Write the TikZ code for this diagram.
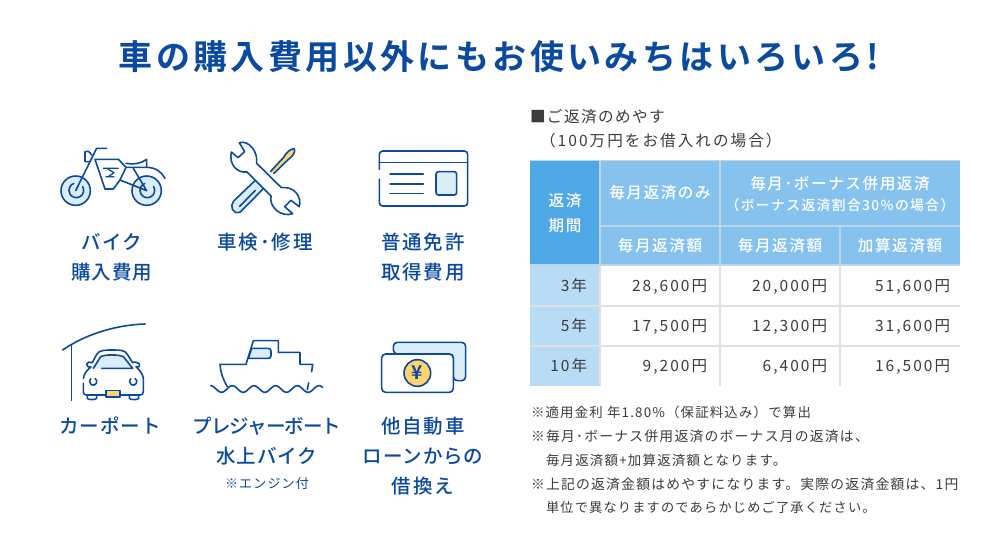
\documentclass[tikz,border=0pt]{standalone}
\usepackage{fontspec}
\setmainfont{Noto Sans CJK JP}
\newfontfamily\jpr[LetterSpace=9]{Noto Sans CJK JP}
\newfontfamily\jprw[LetterSpace=13]{Noto Sans CJK JP}
\newfontfamily\jpm[LetterSpace=10]{Noto Sans CJK JP Medium}
\newfontfamily\jpmn[LetterSpace=5]{Noto Sans CJK JP Medium}
\newfontfamily\jpmt[LetterSpace=-5]{Noto Sans CJK JP Medium}
\newfontfamily\jpb[LetterSpace=10]{Noto Sans CJK JP Bold}
\definecolor{navy}{HTML}{0B4A9E}
\definecolor{pale}{HTML}{DCEDFA}
\definecolor{gold}{HTML}{FFD36E}
\definecolor{ink}{HTML}{3C3C3C}
\definecolor{hdr}{HTML}{86C2EE}
\definecolor{hdrd}{HTML}{4FA8E6}
\definecolor{rowh}{HTML}{B8DCF6}
\definecolor{seph}{HTML}{BCD6E8}
\definecolor{sepb}{HTML}{E0E0E0}
\tikzset{
  base/.style={inner sep=0pt,outer sep=0pt},
  ttl/.style={base,text=navy,font=\jpb\fontsize{34}{34}\selectfont,text height=29.9pt,text depth=4.1pt},
  lbl/.style={base,text=navy,font=\jpm\fontsize{19.5}{19.5}\selectfont,text height=17.2pt,text depth=2.3pt},
  lbln/.style={lbl,font=\jpmn\fontsize{19.5}{19.5}\selectfont},
  lblt/.style={lbl,font=\jpmt\fontsize{19.5}{19.5}\selectfont},
  lbls/.style={base,text=navy,font=\jpr\fontsize{13}{13}\selectfont,text height=11.4pt,text depth=1.6pt},
  thd/.style={base,text=white,font=\jpm\fontsize{15.6}{15.6}\selectfont,text height=13.7pt,text depth=1.9pt},
  ths/.style={base,text=white,font=\jpm\fontsize{13.8}{13.8}\selectfont,text height=12.1pt,text depth=1.7pt},
  tbd/.style={base,anchor=east,text=ink,font=\jprw\fontsize{15.5}{15.5}\selectfont,text height=13.6pt,text depth=1.9pt},
  hd/.style={base,anchor=west,text=ink,font=\jpr\fontsize{15.6}{15.6}\selectfont,text height=13.7pt,text depth=1.9pt},
  hdw/.style={hd,font=\jprw\fontsize{15.6}{15.6}\selectfont},
  note/.style={base,anchor=west,text=ink,font=\jpr\fontsize{#1}{#1}\selectfont,text height=11.4pt,text depth=1.6pt},
  ic/.style={draw=navy,line width=1.6pt,line join=round,line cap=round},
  zoomed/.style={x=0.33333pt,y=-0.33333pt}
}
\begin{document}
\begin{tikzpicture}[x=1pt,y=-1pt]
\useasboundingbox (0,0) rectangle (1000,555);
\fill[white] (0,0) rectangle (1000,555);

\node[ttl] (title) at (499,57) {車の購入費用以外にもお使いみちはいろいろ!};

% --- motorcycle
\begin{scope}[shift={(40,130)},zoomed]
\draw[ic,fill=pale] (107,182) circle (44);
\draw[ic,fill=pale] (320,182) circle (44);
\draw[ic] (128,170) arc (-30:250:22);
\draw[ic] (341,170) arc (-30:250:22);
\draw[ic] (107,182) -- (170,55) -- (200,55);
\draw[ic] (155,75) .. controls (148,62) and (140,62) .. (135,65) -- (135,95) -- (148,95);
\draw[ic] (165,88) -- (235,88) -- (258,112) -- (240,150) -- (220,177) -- (195,177) -- cycle;
\draw[ic] (258,100) .. controls (280,105) and (305,100) .. (320,88) -- (320,112) -- (258,112);
\draw[ic] (320,112) .. controls (345,112) and (365,125) .. (375,145);
\draw[ic] (240,150) -- (320,182) -- (280,115);
\draw[ic,line width=1.3pt] (190,115) -- (235,115) (200,115) -- (222,128) -- (205,140) (198,140) -- (222,140);
\end{scope}
\node[lbln] (l1a) at (112,242) {バイク};
\node[lbln] (l1b) at (112,272) {購入費用};

% --- tools
\begin{scope}[shift={(222,136)},zoomed]
\draw[ic,fill=gold] (145,107) -- (185,64) .. controls (192,50) and (205,38) .. (217,38) .. controls (222,50) and (210,62) .. (197,72) -- (155,113);
\draw[ic,fill=pale] (100,133) -- (35,195) .. controls (22,210) and (32,238) .. (55,228) -- (127,155);
\draw[ic] (52,212) -- (100,163);
\draw[ic,fill=white] (52,20) .. controls (80,12) and (108,45) .. (104,82) -- (178,155) .. controls (215,150) and (240,180) .. (232,212) -- (207,193) -- (188,212) -- (212,233) .. controls (180,245) and (140,215) .. (147,180) -- (75,108) .. controls (45,112) and (20,85) .. (28,48) -- (48,65) -- (68,47) -- cycle;
\end{scope}
\node[lbl] (l2) at (265,242) {車検･修理};

% --- licence card
\begin{scope}[shift={(280,130)},zoomed]
\draw[ic] (298,118) -- (298,73) arc (180:270:10) -- (553,63) arc (-90:0:10) -- (563,218) arc (0:90:10) -- (308,228) arc (90:180:10) -- (298,148);
\draw[ic] (298,97) -- (563,97);
\draw[ic,line width=1.3pt] (330,132) -- (430,132) (330,162) -- (430,162) (330,191) -- (430,191);
\draw[ic,fill=pale,rounded corners=2.5pt] (468,125) rectangle (530,195);
\end{scope}
\node[lbl] (l3a) at (423,242) {普通免許};
\node[lbl] (l3b) at (423,272) {取得費用};

% --- car port
\begin{scope}[shift={(40,315)},zoomed]
\draw[ic] (68,105) .. controls (130,62) and (220,30) .. (315,27);
\draw[ic,line cap=butt] (95,90) -- (95,258);
\draw[ic,fill=white] (142,240) -- (142,250) .. controls (142,255) and (168,255) .. (170,250) -- (170,240);
\draw[ic,fill=white] (268,240) -- (268,250) .. controls (270,255) and (296,255) .. (296,250) -- (296,240);
\draw[ic] (130,205) -- (130,232) .. controls (130,238) and (135,240) .. (140,240) -- (198,240);
\draw[ic] (240,240) -- (300,240) .. controls (306,240) and (310,236) .. (310,230) -- (310,190) .. controls (308,175) and (298,165) .. (288,155) .. controls (298,158) and (302,152) .. (298,146) .. controls (292,140) and (280,140) .. (278,143) -- (262,118) .. controls (255,105) and (240,105) .. (218,105) .. controls (195,105) and (178,105) .. (170,118) -- (157,143) .. controls (150,138) and (140,142) .. (140,148) .. controls (140,154) and (146,158) .. (153,156) .. controls (142,165) and (132,175) .. (130,190);
\fill[pale] (160,160) -- (182,122) .. controls (195,118) and (235,118) .. (250,122) -- (278,160) -- cycle;
\draw[ic] (160,160) -- (182,125) .. controls (195,118) and (235,118) .. (250,125) -- (278,160) -- (185,160);
\draw[ic] (165,190) arc (-60:230:11);
\draw[ic] (285,190) arc (-60:230:11);
\draw[ic,fill=gold] (198,226) rectangle (240,246);
\end{scope}
\node[lbln] (l4) at (110,426) {カーポート};

% --- boat
\begin{scope}[shift={(40,315)},zoomed]
\draw[ic] (815,170) -- (818,148) -- (780,148) -- (780,112) -- (715,112) -- (715,77) -- (640,77) -- (618,148) -- (540,148) .. controls (542,175) and (550,195) .. (562,215);
\draw[ic,fill=pale] (635,100) -- (685,100) .. controls (692,100) and (693,104) .. (693,110) -- (693,122) .. controls (693,128) and (690,130) .. (685,130) -- (625,130) -- cycle;
\draw[ic] plot[smooth,domain=512:848,samples=70] (\x,{222-10*cos(5.5385*(\x-512))});
\draw[ic] (806,203) -- (802,224);
\end{scope}
\node[lblt] (l5a) at (267,426) {プレジャーボート};
\node[lbln] (l5b) at (267,456) {水上バイク};
\node[lbls] (l5c) at (267,484) {※エンジン付};

% --- banknotes
\begin{scope}[shift={(360,330)},zoomed]
\draw[ic,fill=pale,rounded corners=4pt] (100,72) -- (100,37) -- (317,37) -- (317,152) -- (280,152) -- (280,72) -- cycle;
\draw[ic,fill=white,rounded corners=4pt] (65,72) rectangle (280,187);
\draw[ic,fill=gold] (172,129) circle (40);
\node[base,text=navy,font=\jpb\fontsize{19}{19}\selectfont] (yen) at (172,129) {¥};
\end{scope}
\node[lbl] (l6a) at (423,426) {他自動車};
\node[lbln] (l6b) at (423,456) {ローンからの};
\node[lbl] (l6c) at (423,486) {借換え};

% --- table heading
\node[hd] (h1) at (530,117) {■ご返済のめやす};
\node[hdw] (h2) at (540,141) {（100万円をお借入れの場合）};

% --- table
\fill[hdrd] (530,160) rectangle (600,265);
\fill[hdr] (600,160) rectangle (960,265);
\fill[rowh] (530,265) rectangle (600,386);
\draw[seph,line width=1pt] (530,160.5) -- (960,160.5);
\draw[seph,line width=1.5pt] (600,160) -- (600,265) (720,160) -- (720,265) (840,226) -- (840,265) (600,226) -- (960,226) (530,265) -- (960,265);
\draw[sepb,line width=1.5pt] (600,266) -- (600,386) (720,266) -- (720,386) (840,266) -- (840,386) (530,306) -- (960,306) (530,346) -- (960,346);

\node[thd] (c1) at (565,201) {返済};
\node[thd] (c2) at (565,226) {期間};
\node[thd] (c3) at (660,193) {毎月返済のみ};
\node[thd] (c4) at (840,184) {毎月･ボーナス併用返済};
\node[ths] (c5) at (840,205) {（ボーナス返済割合30\%の場合）};
\node[thd] (c6) at (660,246) {毎月返済額};
\node[thd] (c7) at (780,246) {毎月返済額};
\node[thd] (c8) at (900,246) {加算返済額};

\node[tbd] (r1a) at (587,286) {3年};
\node[tbd] (r1b) at (707,286) {28,600円};
\node[tbd] (r1c) at (827,286) {20,000円};
\node[tbd] (r1d) at (950,286) {51,600円};
\node[tbd] (r2a) at (587,326) {5年};
\node[tbd] (r2b) at (707,326) {17,500円};
\node[tbd] (r2c) at (827,326) {12,300円};
\node[tbd] (r2d) at (950,326) {31,600円};
\node[tbd] (r3a) at (587,366) {10年};
\node[tbd] (r3b) at (707,366) {9,200円};
\node[tbd] (r3c) at (827,366) {6,400円};
\node[tbd] (r3d) at (950,366) {16,500円};

% --- notes
\node[note=13.4] (n1) at (531,413) {※適用金利 年1.80\%（保証料込み）で算出};
\node[note=13.8] (n2) at (531,437) {※毎月･ボーナス併用返済のボーナス月の返済は、};
\node[note=13.45] (n3) at (546,461) {毎月返済額+加算返済額となります。};
\node[note=13.8] (n4) at (531,485) {※上記の返済金額はめやすになります。実際の返済金額は、1円};
\node[note=13.2] (n5) at (546,508) {単位で異なりますのであらかじめご了承ください。};
\end{tikzpicture}
\end{document}
